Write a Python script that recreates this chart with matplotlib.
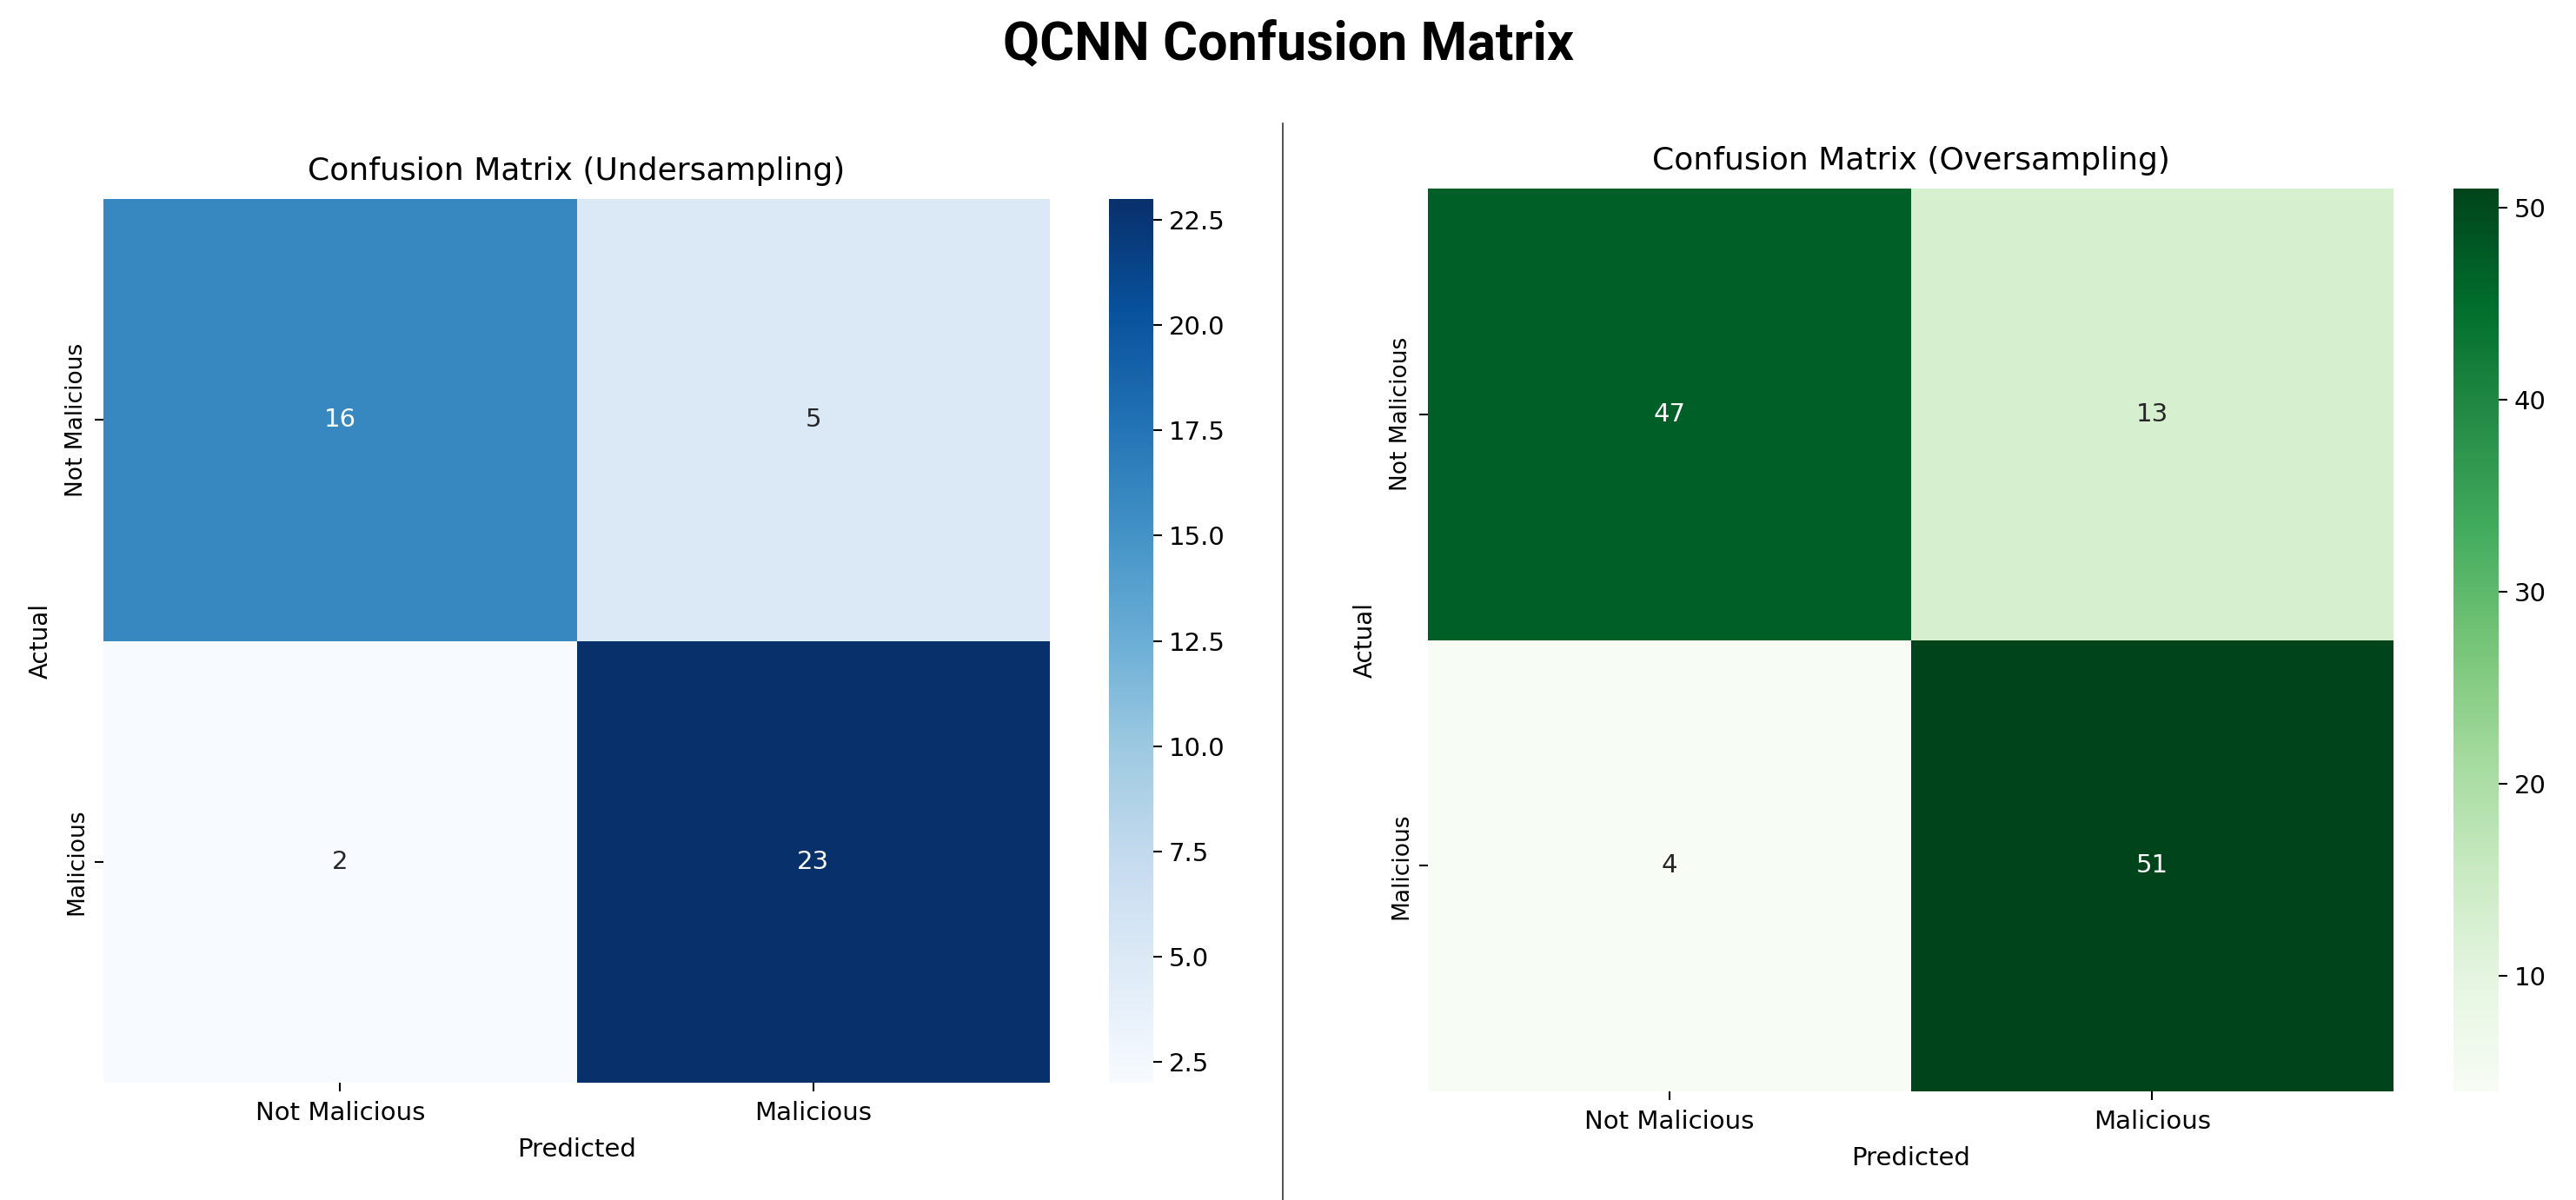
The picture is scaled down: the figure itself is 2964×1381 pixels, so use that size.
import numpy as np
import matplotlib
matplotlib.use("Agg")
import matplotlib.pyplot as plt
import seaborn as sns
from matplotlib.lines import Line2D

# Data
labels = ["Not Malicious", "Malicious"]
under_cm = [[16, 5],
            [2, 23]]
over_cm = [[47, 13],
           [4, 51]]
under_title = "Confusion Matrix (Undersampling)"
over_title = "Confusion Matrix (Oversampling)"
suptitle = "QCNN Confusion Matrix"

W, H = 2964, 1381
fig = plt.figure(figsize=(W / 100, H / 100), dpi=100)

fs_tick = 21
fs_ytick = 19
fs_title = 26

def px_box(x0, x1, y0, y1):
    # convert pixel box (top-left origin) into figure fraction rect
    return [x0 / W, 1 - y1 / H, (x1 - x0) / W, (y1 - y0) / H]

panels = [
    (under_cm, "Blues", under_title, px_box(119, 1208, 229, 1246), px_box(1276, 1327, 229, 1246)),
    (over_cm, "Greens", over_title, px_box(1643, 2754, 217, 1256), px_box(2823, 2875, 217, 1256)),
]

for cm, cmap, title, rect, cbar_rect in panels:
    ax = fig.add_axes(rect)
    cax = fig.add_axes(cbar_rect)
    sns.heatmap(np.array(cm), annot=True, fmt="d", cmap=cmap, ax=ax, cbar_ax=cax,
                xticklabels=labels, yticklabels=labels,
                annot_kws={"fontsize": fs_tick})
    ax.set_title(title, fontsize=fs_title, pad=16)
    ax.set_xlabel("Predicted", fontsize=fs_tick, labelpad=10)
    ax.set_ylabel("Actual", fontsize=fs_ytick + 1, labelpad=10)
    ax.tick_params(axis="x", labelsize=fs_tick, length=7, width=1.5, pad=8)
    ax.tick_params(axis="y", labelsize=fs_ytick, length=7, width=1.5, pad=6)
    plt.setp(ax.get_yticklabels(), rotation=90, va="center")
    cax.tick_params(labelsize=fs_tick, length=7, width=1.5, pad=6)

# divider between the two panels
fig.add_artist(Line2D([1476 / W, 1476 / W], [0, 1 - 142 / H],
                      transform=fig.transFigure, color="#333333", linewidth=1.2))

fig.text(0.5, 1 - 52 / H, suptitle, ha="center", va="center",
         fontsize=44, fontweight="bold", family="Roboto")

plt.savefig("out.png", dpi=100)
